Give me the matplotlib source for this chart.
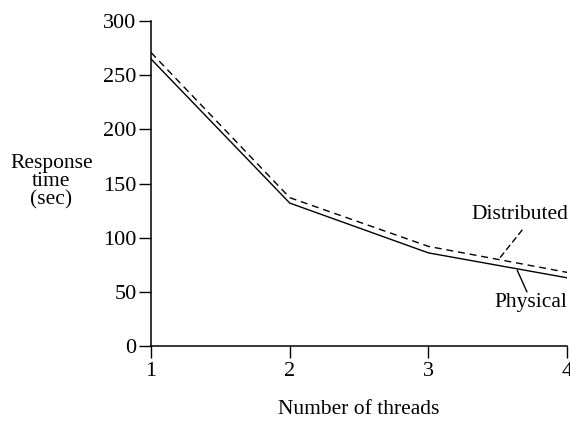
import matplotlib
matplotlib.use('Agg')
import matplotlib.pyplot as plt

threads = [1, 2, 3, 4]
physical = [265, 132, 86, 63]
distributed = [271, 137, 92, 68]
yticks = [0, 50, 100, 150, 200, 250, 300]

plt.rcParams['font.family'] = ['Liberation Serif', 'DejaVu Serif']

fig = plt.figure(figsize=(5.7, 4.23), dpi=100)
ax = fig.add_axes([0.265, 0.182, 0.730, 0.768])

ax.plot(threads, physical, color='black', lw=1.0)
ax.plot(threads, distributed, color='black', lw=1.0, linestyle=(0, (5, 3.5)))

ax.set_xlim(1, 4)
ax.set_ylim(0, 300)
ax.set_xticks(threads)
ax.set_yticks(yticks)
ax.tick_params(axis='both', labelsize=16, length=8.5, width=1, direction='out')
ax.tick_params(axis='y', pad=2)
ax.tick_params(axis='x', pad=3)

for s in ['top', 'right']:
    ax.spines[s].set_visible(False)
for s in ['left', 'bottom']:
    ax.spines[s].set_linewidth(1.1)

ax.set_xlabel('Number of threads', fontsize=15.5, labelpad=14)
fig.text(0.09, 0.57, 'Response\ntime\n(sec)', fontsize=15.5, ha='center', va='center',
         linespacing=0.95)

# labels with leader lines
ax.text(3.66, 121, 'Distributed', fontsize=15.5, ha='center', va='center')
ax.annotate('', xy=(3.50, 79), xytext=(3.675, 107),
            arrowprops=dict(arrowstyle='-', color='black', lw=1.0, linestyle=(0, (4, 3)),
                            shrinkA=0, shrinkB=0))
ax.text(3.74, 40, 'Physical', fontsize=15.5, ha='center', va='center')
ax.annotate('', xy=(3.64, 70), xytext=(3.71, 50),
            arrowprops=dict(arrowstyle='-', color='black', lw=1.0, shrinkA=0, shrinkB=0))

fig.savefig('out.png', dpi=100)
